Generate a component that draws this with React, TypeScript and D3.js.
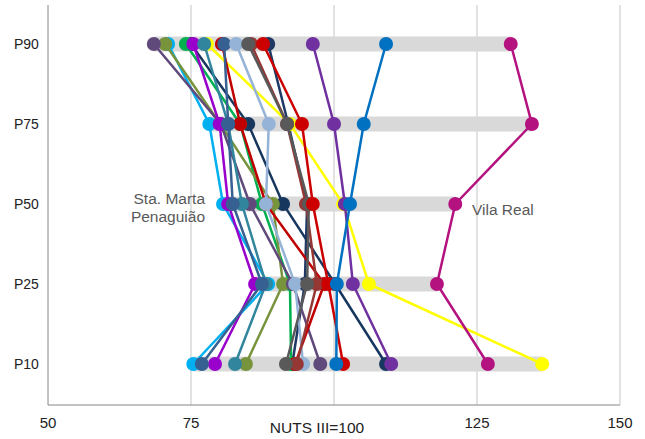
import React from "react";
import * as d3 from "d3";

const categories = ["P90", "P75", "P50", "P25", "P10"];
const xTicks = [50, 75, 100, 125, 150];
const xTickLabels = ["50", "75", "NUTS III=100", "125", "150"];

// values per series in order P90, P75, P50, P25, P10
const navyA = [88.5, 92.0, 95.3, 94.9, 92.7];
const navyB = [75.0, 85.0, 91.1, 100.2, 109.1];
const cyan = [71.0, 78.2, 80.6, 88.5, 75.4];
const greenS = [74.1, 83.6, 87.4, 92.3, 92.5];
const olive = [70.5, 80.1, 89.3, 91.1, 84.6];
const darkPurpleGrey = [68.5, 80.2, 85.3, 92.8, 97.6];
const brightPurple = [75.4, 80.0, 81.5, 86.2, 79.2];
const yellowS = [77.8, 92.3, 101.6, 106.1, 136.4];
const teal = [77.3, 81.5, 83.9, 88.1, 82.7];
const redA = [80.4, 83.6, 88.1, 98.3, 93.2];
const steelBlue = [80.8, 81.5, 82.3, 87.4, 76.9];
const lightSteelBlue = [82.9, 88.6, 88.1, 93.2, 94.6];
const brownRed = [85.5, 91.8, 95.1, 97.0, 93.5];
const darkGrey = [85.0, 91.8, 95.6, 95.3, 91.6];
const redB = [87.6, 94.4, 96.3, 99.0, 101.6];
const purpleS = [96.3, 100.0, 101.9, 103.3, 110.0];
const blueS = [109.1, 105.2, 102.8, 100.5, 100.4];
const vilaReal = [130.9, 134.6, 121.2, 118.0, 126.9];

const seriesList = [
  { values: navyA, color: "#1f3864" },
  { values: navyB, color: "#17375e" },
  { values: cyan, color: "#00b0f0" },
  { values: greenS, color: "#00b050" },
  { values: olive, color: "#77933c" },
  { values: darkPurpleGrey, color: "#604a7b" },
  { values: brightPurple, color: "#9900cc" },
  { values: yellowS, color: "#ffff00" },
  { values: teal, color: "#31859c" },
  { values: redA, color: "#c00000" },
  { values: steelBlue, color: "#376092" },
  { values: lightSteelBlue, color: "#95b3d7" },
  { values: brownRed, color: "#953735" },
  { values: darkGrey, color: "#595959" },
  { values: redB, color: "#cc0000" },
  { values: purpleS, color: "#7030a0" },
  { values: blueS, color: "#0070c0" },
  { values: vilaReal, color: "#b3127f" },
];

const W = 645;
const H = 439;

export default function App() {
  const x = d3.scaleLinear().domain([50, 150]).range([48, 620]);
  const y = d3.scalePoint<string>().domain(categories).range([44, 364]);
  const top = 5;
  const bottom = 405;

  const line = d3
    .line<number>()
    .x((d) => x(d))
    .y((_, i) => y(categories[i]) as number);

  const ranges = categories.map((c, i) => {
    const vals = seriesList.map((s) => s.values[i]);
    return { c, min: d3.min(vals) as number, max: d3.max(vals) as number };
  });

  const font = "'Liberation Sans', Arial, sans-serif";

  return (
    <svg
      width={W}
      height={H}
      style={{ position: "absolute", left: 0, top: 0, background: "#fff" }}
      fontFamily={font}
    >
      {/* gridlines */}
      {xTicks.slice(1).map((t) => (
        <line key={t} x1={x(t)} x2={x(t)} y1={top} y2={bottom} stroke="#d9d9d9" strokeWidth={1.5} />
      ))}
      {/* axes */}
      <line x1={x(50)} x2={x(50)} y1={top} y2={bottom} stroke="#868686" strokeWidth={1} />
      <line x1={x(50)} x2={x(150)} y1={bottom} y2={bottom} stroke="#868686" strokeWidth={1} />

      {/* range bars */}
      {ranges.map((r) => (
        <rect
          key={r.c}
          x={x(r.min)}
          width={x(r.max) - x(r.min)}
          y={(y(r.c) as number) - 7.5}
          height={15}
          fill="#d9d9d9"
        />
      ))}

      {/* series */}
      {seriesList.map((s, si) => (
        <g key={si}>
          <path d={line(s.values) || ""} fill="none" stroke={s.color} strokeWidth={2.5} />
          {s.values.map((v, i) => (
            <circle key={i} cx={x(v)} cy={y(categories[i]) as number} r={7} fill={s.color} />
          ))}
        </g>
      ))}

      {/* category labels */}
      {categories.map((c) => (
        <text key={c} x={14} y={(y(c) as number) + 5} fontSize={14} fill="#222">
          {c}
        </text>
      ))}

      {/* x tick labels */}
      {xTicks.map((t, i) => (
        <text
          key={t}
          x={t === 100 ? x(t) - 17 : x(t)}
          y={t === 100 ? 433 : 428}
          fontSize={t === 100 ? 15.5 : 15}
          fill="#222"
          textAnchor="middle"
        >
          {xTickLabels[i]}
        </text>
      ))}

      {/* data labels */}
      <text x={205} y={205} fontSize={15.5} fill="#595959" textAnchor="end">
        <tspan x={205} dy={-1}>Sta. Marta</tspan>
        <tspan x={205} dy={18}>Penaguião</tspan>
      </text>
      <text x={472} y={215} fontSize={15.5} fill="#595959">
        Vila Real
      </text>
    </svg>
  );
}
